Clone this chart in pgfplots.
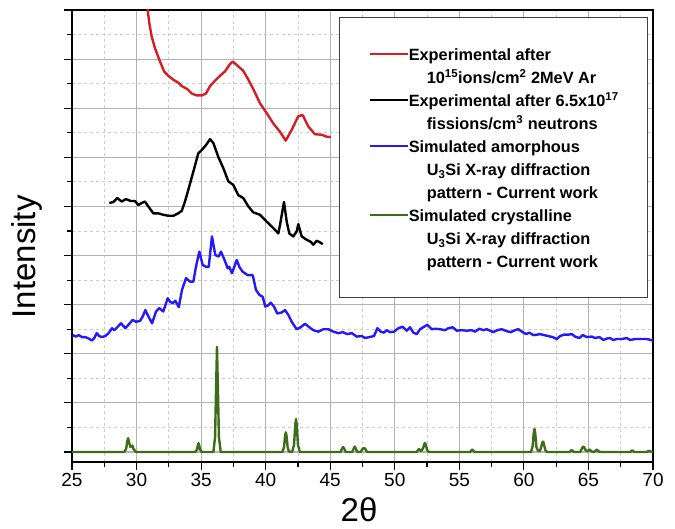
\documentclass[border=0pt]{standalone}
\usepackage{fontspec}
\setmainfont{Liberation Sans}
\usepackage{pgfplots}
\pgfplotsset{compat=1.18}

\definecolor{expred}{RGB}{212,30,36}
\definecolor{simblue}{RGB}{35,25,250}
\definecolor{simgreen}{RGB}{60,110,25}

\begin{document}
\begin{tikzpicture}
\useasboundingbox (-72pt,-66pt) rectangle (603pt,462pt);
\begin{axis}[
    at={(0pt,0pt)}, anchor=south west,
    scale only axis, width=581pt, height=452pt,
    xmin=25, xmax=70, ymin=-0.204, ymax=9.0,
    xtick={25,30,...,70}, minor x tick num=1,
    ytick={0,1,...,9}, minor y tick num=1,
    yticklabels={},
    tick pos=left, tick align=outside,
    major tick length=8pt, minor tick length=5pt,
    tick style={black, line width=1.2pt},
    grid=both,
    major grid style={line width=1.2pt, color=black!30},
    minor grid style={line width=0.8pt, color=black!20, dash pattern=on 3pt off 3pt},
    axis line style={black, line width=1.6pt},
    /pgf/number format/assume math mode=true,
    ticklabel style={font=\fontsize{19}{19}\selectfont},
    xlabel={2θ}, ylabel={Intensity},
    xlabel style={at={(rel axis cs:0.494,-0.106)}, anchor=center, font=\fontsize{33}{33}\selectfont},
    ylabel style={at={(rel axis cs:-0.0775,0.454)}, anchor=center, rotate=0, font=\fontsize{33}{33}\selectfont},
    legend image code/.code={\draw[#1] (0pt,0pt) -- (38pt,0pt);},
    legend cell align=left,
    legend style={at={(rel axis cs:0.9914,0.9845)}, anchor=north east,
        draw=black!75, line width=0.8pt, fill=white,
        inner xsep=29pt, inner ysep=29pt, row sep=8pt, column sep=0pt,
        nodes={inner sep=0pt, text height=14pt, text depth=1pt,
               font=\fontsize{16.3}{16.3}\selectfont\bfseries}},
    every axis plot/.append style={line width=2.4pt, line join=round},
]
% Experimental, ions
\addplot[expred, forget plot] coordinates {
(30.72,9.3) (30.99,8.73) (31.17,8.46) (31.43,8.22) (31.82,7.95) (32.13,7.75)
(32.46,7.66) (32.85,7.58) (33.23,7.52) (33.50,7.45) (33.93,7.39) (34.27,7.30)
(34.66,7.26) (35.05,7.26) (35.38,7.30) (35.69,7.45) (36.08,7.56) (36.46,7.66)
(36.85,7.75) (37.24,7.90) (37.45,7.95) (37.76,7.88) (38.27,7.76) (38.66,7.58)
(39.04,7.39) (39.56,7.10) (40.08,6.90) (40.59,6.69) (41.11,6.52) (41.55,6.34)
(42.02,6.56) (42.53,6.84) (42.87,6.86) (43.30,6.63) (43.82,6.47) (44.34,6.46)
(44.73,6.42) (45.04,6.41)
};
% Experimental, neutrons
\addplot[black, forget plot] coordinates {
(27.89,5.07) (28.20,5.09) (28.51,5.17) (28.85,5.10) (29.18,5.15) (29.55,5.11)
(29.88,5.11) (30.14,5.03) (30.40,5.07) (30.65,5.10) (30.91,5.00) (31.30,4.86)
(31.68,4.86) (32.07,4.83) (32.46,4.81) (32.85,4.81) (33.23,4.86) (33.50,4.91)
(33.75,5.10) (34.01,5.34) (34.40,5.71) (34.78,6.08) (35.05,6.15) (35.38,6.25)
(35.69,6.37) (35.95,6.29) (36.33,6.01) (36.72,5.78) (37.11,5.51) (37.49,5.44)
(37.88,5.23) (38.27,5.17) (38.66,5.00) (39.04,4.88) (39.56,4.83) (40.08,4.69)
(40.59,4.56) (40.98,4.45) (41.11,4.62) (41.42,5.09) (41.63,4.69) (41.83,4.45)
(42.14,4.39) (42.40,4.49) (42.53,4.64) (42.79,4.39) (43.18,4.32) (43.49,4.28)
(43.69,4.22) (43.95,4.30) (44.21,4.27) (44.42,4.23)
};
% Simulated amorphous
\addplot[simblue, forget plot] coordinates {
(25.05,2.38) (25.31,2.35) (25.52,2.38) (25.77,2.34) (26.03,2.34) (26.29,2.31)
(26.55,2.27) (26.73,2.32) (26.91,2.42) (27.11,2.36) (27.32,2.34) (27.58,2.36)
(27.84,2.42) (28.10,2.52) (28.28,2.48) (28.54,2.55) (28.80,2.62) (29.13,2.52)
(29.44,2.61) (29.70,2.69) (29.96,2.65) (30.27,2.67) (30.48,2.76) (30.68,2.89)
(30.86,2.79) (31.20,2.62) (31.51,2.86) (31.76,2.93) (32.07,2.86) (32.41,3.13)
(32.59,3.06) (32.80,3.03) (33.00,3.08) (33.27,2.95) (33.52,3.30) (33.83,3.54)
(34.14,3.47) (34.40,3.47) (34.60,3.77) (34.86,4.08) (35.12,3.81) (35.38,3.77)
(35.59,3.77) (35.84,4.39) (36.10,4.01) (36.36,3.98) (36.54,4.08) (36.80,3.92)
(37.06,3.74) (37.18,3.77) (37.39,3.64) (37.76,3.91) (37.96,3.77) (38.22,3.67)
(38.61,3.60) (39.00,3.60) (39.25,3.30) (39.51,3.20) (39.77,3.16) (39.97,2.96)
(40.21,2.99) (40.39,3.04) (40.65,2.96) (40.90,2.82) (41.24,2.84) (41.50,2.89)
(41.76,2.79) (42.02,2.65) (42.40,2.50) (42.71,2.54) (43.05,2.61) (43.38,2.54)
(43.69,2.48) (44.08,2.45) (44.47,2.50) (44.85,2.50) (45.24,2.45) (45.63,2.42)
(45.97,2.44) (46.32,2.40) (46.67,2.42) (47.05,2.35) (47.44,2.36) (47.70,2.32)
(48.03,2.34) (48.39,2.36) (48.65,2.52) (48.91,2.45) (49.17,2.43) (49.38,2.48)
(49.63,2.44) (49.94,2.45) (50.28,2.52) (50.61,2.55) (50.93,2.47) (51.18,2.54)
(51.44,2.43) (51.70,2.40) (51.96,2.50) (52.21,2.54) (52.52,2.59) (52.86,2.50)
(53.12,2.51) (53.51,2.50) (53.89,2.48) (54.15,2.52) (54.49,2.54) (54.80,2.47)
(55.18,2.48) (55.57,2.47) (55.96,2.48) (56.22,2.45) (56.55,2.51) (56.86,2.48)
(57.12,2.50) (57.38,2.47) (57.63,2.44) (57.94,2.48) (58.28,2.50) (58.67,2.46)
(58.98,2.44) (59.31,2.48) (59.57,2.50) (59.91,2.44) (60.17,2.40) (60.42,2.43)
(60.73,2.38) (61.04,2.39) (61.25,2.40) (61.56,2.38) (61.89,2.36) (62.23,2.34)
(62.54,2.30) (62.80,2.36) (63.11,2.39) (63.44,2.39) (63.71,2.40) (63.96,2.35)
(64.30,2.32) (64.56,2.38) (64.87,2.34) (65.26,2.35) (65.51,2.32) (65.85,2.34)
(66.16,2.28) (66.42,2.31) (66.67,2.32) (66.93,2.28) (67.19,2.30) (67.58,2.30)
(67.97,2.32) (68.22,2.28) (68.61,2.30) (69.00,2.30) (69.52,2.30) (70.00,2.27)
};
% Simulated crystalline
\addplot[simgreen, forget plot] coordinates {
(25,0) (29.05,0) (29.2,0.07) (29.28,0.22) (29.35,0.28) (29.42,0.2) (29.52,0.1)
(29.62,0.12) (29.68,0.13) (29.77,0.06) (29.95,0)
(34.55,0) (34.68,0.05) (34.75,0.14) (34.8,0.18) (34.85,0.14) (34.92,0.05) (35.05,0)
(35.95,0) (36.08,0.3) (36.16,1.3) (36.23,2.14) (36.3,1.3) (36.38,0.3) (36.52,0)
(41.3,0) (41.42,0.1) (41.5,0.32) (41.56,0.40) (41.62,0.32) (41.7,0.1) (41.8,0.01)
(42.05,0) (42.2,0.15) (42.29,0.55) (42.35,0.67) (42.41,0.55) (42.5,0.15) (42.65,0)
(45.8,0) (45.92,0.07) (46.0,0.10) (46.08,0.07) (46.2,0)
(46.7,0) (46.82,0.07) (46.9,0.11) (46.98,0.07) (47.1,0)
(47.35,0) (47.5,0.06) (47.6,0.08) (47.7,0.07) (47.85,0)
(51.7,0) (51.8,0.04) (51.87,0.06) (51.95,0.04) (52.05,0.02)
(52.2,0.08) (52.28,0.16) (52.35,0.18) (52.42,0.14) (52.5,0.04) (52.65,0)
(55.85,0) (55.95,0.04) (56.0,0.05) (56.07,0.03) (56.2,0)
(60.55,0) (60.68,0.12) (60.76,0.38) (60.82,0.47) (60.88,0.38) (60.97,0.1) (61.1,0.02)
(61.25,0.02) (61.36,0.12) (61.44,0.2) (61.5,0.21) (61.57,0.14) (61.67,0.03) (61.8,0)
(63.55,0) (63.65,0.03) (63.7,0.04) (63.78,0.02) (63.9,0)
(64.35,0) (64.48,0.06) (64.56,0.1) (64.62,0.11) (64.7,0.08) (64.8,0.03) (64.9,0.02)
(65.0,0.03) (65.1,0.05) (65.2,0.02) (65.35,0)
(65.5,0.01) (65.6,0.04) (65.66,0.05) (65.75,0.02) (65.9,0)
(68.25,0) (68.35,0.03) (68.42,0.03) (68.55,0)
(69.55,0) (69.65,0.02) (69.75,0.02) (69.9,0) (70,0)
};

\addlegendimage{expred, line width=2.4pt}
\addlegendentry{Experimental after}
\addlegendimage{empty legend}
\addlegendentry{\hspace*{18pt}10\textsuperscript{15}ions/cm\textsuperscript{2} 2MeV Ar}
\addlegendimage{black, line width=2.4pt}
\addlegendentry{Experimental after 6.5x10\textsuperscript{17}}
\addlegendimage{empty legend}
\addlegendentry{\hspace*{18pt}fissions/cm\textsuperscript{3} neutrons}
\addlegendimage{simblue, line width=2.4pt}
\addlegendentry{Simulated amorphous}
\addlegendimage{empty legend}
\addlegendentry{\hspace*{18pt}U\textsubscript{3}Si X-ray diffraction}
\addlegendimage{empty legend}
\addlegendentry{\hspace*{18pt}pattern - Current work}
\addlegendimage{simgreen, line width=2.4pt}
\addlegendentry{Simulated crystalline}
\addlegendimage{empty legend}
\addlegendentry{\hspace*{18pt}U\textsubscript{3}Si X-ray diffraction}
\addlegendimage{empty legend}
\addlegendentry{\hspace*{18pt}pattern - Current work}
\end{axis}
\end{tikzpicture}
\end{document}
